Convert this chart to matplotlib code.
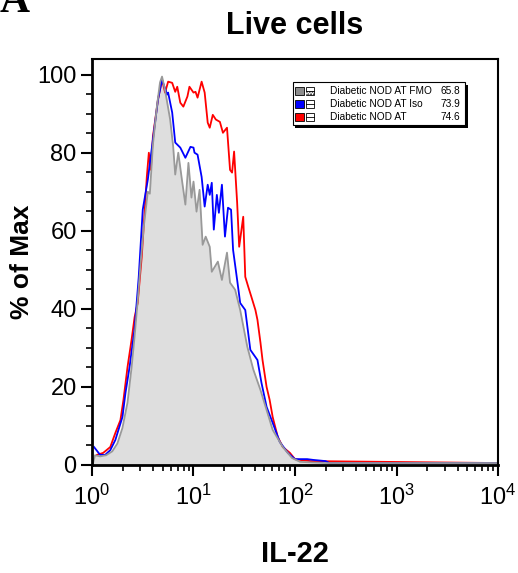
import numpy as np
import matplotlib
matplotlib.use("Agg")
import matplotlib.pyplot as plt
from matplotlib.patches import Rectangle
from matplotlib.ticker import MultipleLocator, LogLocator, NullFormatter

plt.rcParams['font.family'] = ['Liberation Sans', 'DejaVu Sans']
plt.rcParams['mathtext.default'] = 'regular'

# IL-22 intensity (log10) vs % of max
fmo_log = [0.01, 0.03, 0.08, 0.14, 0.20, 0.25, 0.30, 0.35, 0.39, 0.42, 0.45, 0.48,
           0.51, 0.55, 0.57, 0.60, 0.64, 0.67, 0.69, 0.72, 0.77, 0.80, 0.82, 0.85,
           0.89, 0.92, 0.95, 0.98, 1.00, 1.03, 1.06, 1.09, 1.12, 1.16, 1.18, 1.21,
           1.24, 1.28, 1.33, 1.36, 1.41, 1.46, 1.53, 1.59, 1.66, 1.72, 1.78, 1.88,
           1.97, 2.05, 2.30, 4.00]
fmo_pct = [0.5, 2.5, 2.2, 2.5, 3.5, 5.5, 9.5, 16.0, 25.0, 33.0, 42.0, 52.0,
           61.0, 70.0, 69.5, 82.0, 92.0, 98.0, 99.5, 96.0, 88.5, 81.5, 74.4, 80.0,
           72.3, 66.7, 77.4, 68.5, 72.6, 64.9, 70.5, 56.4, 58.5, 55.9, 49.5, 50.8,
           52.1, 47.4, 54.4, 46.7, 44.9, 39.7, 30.3, 24.4, 19.2, 14.1, 9.0, 4.6,
           1.8, 0.8, 0.5, 0.5]

iso_log = [0.02, 0.08, 0.13, 0.18, 0.23, 0.30, 0.33, 0.37, 0.42, 0.46, 0.50, 0.55,
           0.60, 0.65, 0.69, 0.74, 0.75, 0.79, 0.82, 0.87, 0.92, 0.97, 1.00, 1.01,
           1.04, 1.08, 1.11, 1.14, 1.16, 1.18, 1.20, 1.23, 1.25, 1.28, 1.31, 1.34,
           1.37, 1.39, 1.43, 1.46, 1.51, 1.56, 1.63, 1.67, 1.72, 1.78, 1.85, 1.93,
           2.00, 2.12, 2.18, 2.30, 2.34, 4.00]
iso_pct = [4.6, 2.6, 2.6, 3.8, 6.4, 12.3, 18.5, 25.1, 35.0, 48.0, 65.4, 73.1,
           83.3, 93.6, 98.7, 94.9, 95.4, 90.3, 82.6, 81.3, 78.7, 81.5, 81.3, 80.0,
           79.5, 73.8, 66.2, 71.8, 69.2, 72.3, 60.3, 69.2, 64.6, 71.8, 58.5, 65.9,
           65.4, 55.1, 47.4, 41.5, 39.7, 29.5, 26.9, 21.0, 14.9, 10.8, 5.9, 3.1,
           1.5, 1.5, 1.3, 1.0, 0.5, 0.5]

at_log = [0.05, 0.11, 0.18, 0.23, 0.28, 0.31, 0.35, 0.39, 0.42, 0.45, 0.49, 0.52,
          0.54, 0.56, 0.58, 0.60, 0.65, 0.69, 0.72, 0.75, 0.79, 0.82, 0.84, 0.87,
          0.90, 0.94, 0.96, 1.00, 1.02, 1.04, 1.08, 1.11, 1.14, 1.16, 1.19, 1.22,
          1.26, 1.29, 1.33, 1.36, 1.38, 1.40, 1.43, 1.45, 1.49, 1.51, 1.54, 1.57,
          1.61, 1.63, 1.66, 1.68, 1.72, 1.75, 1.78, 1.83, 1.88, 1.95, 2.00, 2.05,
          2.15, 4.00]
at_pct = [2.6, 3.1, 4.6, 8.2, 11.5, 16.7, 25.1, 32.1, 37.9, 41.5, 53.3, 65.4,
          73.8, 80.0, 75.6, 84.1, 93.6, 98.7, 95.4, 98.2, 97.9, 95.6, 96.9, 92.8,
          91.8, 94.4, 96.9, 95.4, 95.6, 94.1, 98.2, 95.4, 87.7, 86.4, 89.7, 88.5,
          87.9, 85.1, 86.4, 75.6, 74.9, 80.3, 67.2, 55.9, 63.6, 48.2, 45.6, 43.1,
          39.7, 37.2, 31.3, 26.9, 20.0, 16.7, 12.3, 7.2, 4.6, 3.1, 1.5, 1.3,
          1.0, 0.5]

legend_labels = ['Diabetic NOD AT FMO', 'Diabetic NOD AT Iso', 'Diabetic NOD AT']
legend_values = ['65.8', '73.9', '74.6']
legend_colors = ['#8c8c8c', '#0000ff', '#ff0000']

fig = plt.figure(figsize=(5.18, 5.73), dpi=100)
ax = fig.add_axes([0.1776, 0.1885, 0.7838, 0.7085])

fmo_x = 10 ** np.array(fmo_log)
ax.fill_between(fmo_x, fmo_pct, color='#dedede', lw=0)
ax.plot(10 ** np.array(at_log), at_pct, color='#ff0000', lw=1.3)
ax.plot(10 ** np.array(iso_log), iso_pct, color='#0000ff', lw=1.3)
ax.plot(fmo_x, fmo_pct, color='#999999', lw=1.3)

ax.set_xscale('log')
ax.set_xlim(1, 1e4)
ax.set_ylim(0, 104)
ax.set_yticks([0, 20, 40, 60, 80, 100])
ax.yaxis.set_minor_locator(MultipleLocator(5))
ax.xaxis.set_major_locator(LogLocator(base=10))
ax.xaxis.set_minor_locator(LogLocator(base=10, subs=np.arange(2, 10)))
ax.xaxis.set_minor_formatter(NullFormatter())

for s in ['left', 'bottom']:
    ax.spines[s].set_linewidth(2)
for s in ['top', 'right']:
    ax.spines[s].set_linewidth(1.5)
ax.tick_params(which='major', length=8, width=1.5, labelsize=17)
ax.tick_params(axis='y', which='major', pad=3)
ax.tick_params(axis='x', which='major', pad=6)
ax.tick_params(which='minor', length=4, width=1.2)

ax.set_title('Live cells', fontsize=22, fontweight='bold', pad=18)
ax.set_ylabel('% of Max', fontsize=19, fontweight='bold')
ax.yaxis.set_label_coords(-0.142, 0.5)
ax.set_xlabel('IL-22', fontsize=21, fontweight='bold')
ax.xaxis.set_label_coords(0.5, -0.185)

# legend box drawn by hand (flow cytometry style)
bx0, bx1, by0, by1 = 0.495, 0.919, 0.837, 0.943
ax.add_patch(Rectangle((bx0 + 0.006, by0 - 0.006), bx1 - bx0, by1 - by0,
                       transform=ax.transAxes, facecolor='black', edgecolor='none', zorder=5))
ax.add_patch(Rectangle((bx0, by0), bx1 - bx0, by1 - by0, transform=ax.transAxes,
                       facecolor='white', edgecolor='black', lw=0.8, zorder=6))
row_y = [0.921, 0.889, 0.857]
sq = 0.021
for i, (lab, val, col) in enumerate(zip(legend_labels, legend_values, legend_colors)):
    y = row_y[i]
    ax.add_patch(Rectangle((0.501, y - sq / 2), sq, sq, transform=ax.transAxes,
                           facecolor=col, edgecolor='black', lw=0.6, zorder=7))
    ax.add_patch(Rectangle((0.527, y - sq / 2), sq, sq, transform=ax.transAxes,
                           facecolor='white', edgecolor='black', lw=0.6, zorder=7))
    if i == 0:
        ax.add_patch(Rectangle((0.527, y - sq / 2), sq, sq / 2, transform=ax.transAxes,
                               facecolor='white', edgecolor='black', hatch='......',
                               lw=0.0, zorder=7))
    ax.plot([0.527, 0.527 + sq], [y, y], transform=ax.transAxes, color='black',
            lw=0.6, zorder=8)
    ax.text(0.586, y, lab, transform=ax.transAxes, fontsize=7.3, va='center',
            ha='left', zorder=8)
    ax.text(0.906, y, val, transform=ax.transAxes, fontsize=7.3, va='center',
            ha='right', zorder=8)

fig.text(0.0, 0.997, 'A', fontsize=30, fontweight='bold', family='Liberation Serif',
         ha='left', va='center')

fig.savefig('out.png', dpi=100)
